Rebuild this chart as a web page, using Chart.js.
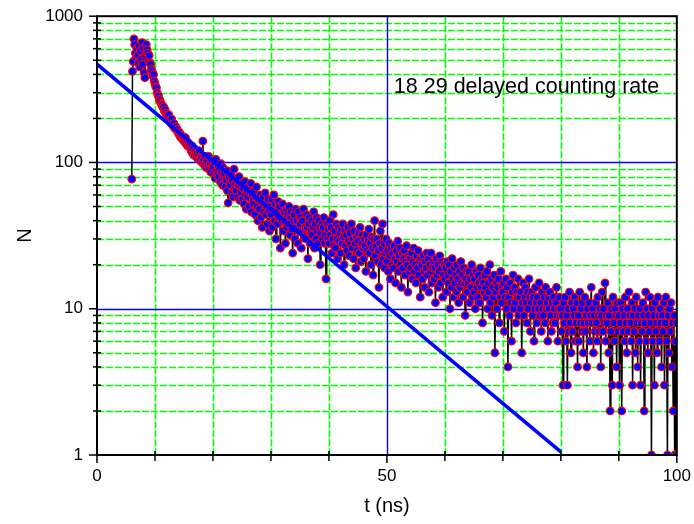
<!DOCTYPE html>
<html>
<head>
<meta charset="utf-8">
<title>18 29 delayed counting rate</title>
<script src="https://cdn.jsdelivr.net/npm/chart.js@4.4.1/dist/chart.umd.min.js"></script>
<style>
  html, body { margin: 0; padding: 0; background: #fff; }
  #wrap { width: 694px; height: 524px; }
</style>
</head>
<body>
<div id="wrap"><canvas id="myChart" width="694" height="524"></canvas></div>
<script>
// counts per time bin, first bin at 6.0 ns, bins 0.125 ns wide (8 per ns)
var binStart = 6.0;
var binWidth = 0.125;
var counts = [
  77, 420, 490, 700, 640, 560, 520, 600,
  540, 480, 620, 450, 580, 510, 660, 470,
  600, 410, 380, 520, 640, 590, 560, 500,
  540, 480, 470, 435, 420, 390, 400, 360,
  345, 330, 325, 300, 290, 285, 270, 265,
  255, 250, 245, 238, 240, 225, 230, 218,
  210, 205, 200, 212, 195, 190, 186, 198,
  182, 178, 185, 172, 170, 175, 166, 168,
  162, 156, 160, 150, 154, 146, 150, 142,
  145, 138, 148, 134, 140, 130, 136, 128,
  132, 125, 120, 130, 115, 124, 112, 118,
  120, 110, 116, 106, 112, 120, 104, 110,
  108, 100, 140, 104, 96, 110, 98, 92,
  102, 95, 110, 90, 98, 86, 104, 94,
  92, 84, 100, 78, 105, 88, 82, 94,
  80, 90, 74, 98, 85, 70, 92, 78,
  84, 68, 76, 88, 64, 53, 80, 72,
  70, 82, 62, 75, 58, 90, 66, 72,
  64, 76, 58, 70, 80, 55, 68, 62,
  72, 56, 66, 52, 74, 60, 48, 64,
  58, 68, 50, 62, 72, 46, 60, 55,
  52, 64, 44, 58, 68, 50, 40, 56,
  48, 60, 42, 54, 36, 58, 46, 52,
  62, 44, 50, 38, 56, 47, 34, 50,
  44, 56, 36, 48, 60, 40, 52, 30,
  46, 38, 54, 42, 50, 26, 44, 40,
  52, 34, 46, 40, 28, 48, 36, 44,
  38, 50, 32, 42, 46, 35, 24, 40,
  44, 30, 48, 36, 40, 28, 46, 34,
  38, 42, 26, 40, 34, 48, 31, 36,
  30, 44, 36, 22, 38, 42, 28, 34,
  40, 32, 36, 46, 26, 38, 30, 42,
  34, 28, 40, 36, 20, 33, 38, 30,
  36, 42, 28, 32, 16, 38, 30, 35,
  28, 40, 32, 36, 24, 30, 44, 27,
  34, 26, 38, 30, 22, 36, 29, 33,
  24, 35, 28, 38, 31, 20, 34, 27,
  32, 25, 36, 29, 23, 33, 28, 38,
  26, 30, 22, 34, 28, 19, 31, 25,
  29, 33, 24, 36, 21, 28, 32, 26,
  22, 30, 27, 18, 32, 25, 29, 35,
  24, 28, 20, 31, 26, 17, 30, 40,
  23, 27, 30, 21, 25, 14, 28, 34,
  20, 26, 38, 22, 28, 19, 24, 30,
  21, 25, 18, 28, 23, 16, 26, 20,
  24, 19, 27, 22, 15, 25, 21, 29,
  18, 23, 26, 20, 14, 24, 19, 22,
  25, 17, 21, 27, 20, 13, 23, 18,
  22, 19, 24, 16, 21, 26, 18, 20,
  15, 23, 19, 25, 17, 21, 12, 22,
  20, 16, 23, 18, 14, 21, 19, 24,
  17, 22, 13, 20, 18, 24, 15, 19,
  21, 16, 19, 11, 22, 17, 20, 14,
  18, 23, 15, 19, 21, 12, 17, 20,
  16, 19, 13, 21, 17, 15, 20, 10,
  18, 14, 22, 16, 12, 19, 15, 17,
  13, 20, 16, 11, 18, 14, 21, 15,
  17, 12, 19, 15, 9, 16, 18, 13,
  15, 18, 11, 16, 14, 20, 12, 17,
  13, 16, 10, 18, 14, 12, 17, 15,
  11, 19, 14, 16, 8, 15, 13, 17,
  14, 12, 18, 10, 15, 13, 20, 11,
  16, 9, 14, 12, 17, 5, 13, 15,
  10, 14, 16, 8, 12, 18, 11, 14,
  13, 15, 7, 12, 16, 10, 14, 4,
  12, 9, 15, 11, 6, 13, 17, 10,
  14, 11, 8, 13, 12, 16, 9, 12,
  10, 13, 5, 11, 15, 9, 12, 14,
  11, 8, 13, 10, 16, 12, 7, 11,
  13, 9, 12, 6, 10, 14, 11, 8,
  12, 10, 15, 9, 11, 7, 13, 10,
  9, 12, 8, 14, 10, 11, 6, 12,
  10, 13, 9, 7, 11, 8, 12, 10,
  8, 11, 14, 9, 6, 10, 12, 9,
  10, 7, 9, 3, 11, 8, 12, 6,
  9, 3, 10, 7, 13, 8, 5, 11,
  7, 10, 9, 12, 6, 8, 11, 4,
  9, 6, 13, 8, 10, 7, 11, 5,
  8, 12, 7, 9, 4, 10, 8, 11,
  6, 9, 14, 8, 10, 5, 9, 7,
  11, 8, 6, 12, 9, 7, 10, 4,
  9, 13, 7, 10, 8, 15, 6, 9,
  8, 11, 5, 9, 2, 7, 10, 3,
  12, 8, 6, 10, 9, 4, 11, 7,
  9, 3, 8, 11, 2, 10, 7, 9,
  6, 12, 8, 5, 10, 7, 13, 9,
  8, 6, 11, 3, 9, 7, 10, 5,
  12, 8, 4, 9, 6, 10, 3, 8,
  7, 11, 9, 2, 8, 13, 6, 10,
  5, 9, 7, 12, 8, 1, 10, 6,
  9, 3, 11, 7, 8, 5, 12, 9,
  6, 10, 8, 4, 9, 7, 11, 3,
  8, 12, 6, 1, 9, 5, 10, 7,
  11, 4, 8, 2, 9, 1, 6, 1,
  8
];

// straight fit line drawn over the data
var fitT = [0, 80];
var fitN = [470, 1.05];

var xLabels = [0, 50, 100];
var yLabels = [1, 10, 100, 1000];

var points = [];
for (var i = 0; i < counts.length; i++) {
  points.push({ x: binStart + i * binWidth, y: counts[i] });
}
var fitPoints = [];
for (var j = 0; j < fitT.length; j++) {
  fitPoints.push({ x: fitT[j], y: fitN[j] });
}

var FONT = '"Liberation Sans", Arial, sans-serif';

// grid, axis ticks, frame and the label inside the plot
var framePlugin = {
  id: 'frame',
  beforeDatasetsDraw: function (chart) {
    var ctx = chart.ctx, a = chart.chartArea;
    var x = chart.scales.x, y = chart.scales.y;
    ctx.save();
    ctx.lineWidth = 1.6;
    ctx.strokeStyle = '#00ff00';
    ctx.setLineDash([7, 2]);
    for (var v = 10; v < 100; v += 10) {
      if (v === 50) continue;
      var px = Math.round(x.getPixelForValue(v)) + 0.5;
      ctx.beginPath(); ctx.moveTo(px, a.top); ctx.lineTo(px, a.bottom); ctx.stroke();
    }
    [1, 10, 100].forEach(function (d) {
      for (var m = 2; m <= 9; m++) {
        var py = Math.round(y.getPixelForValue(d * m)) + 0.5;
        ctx.beginPath(); ctx.moveTo(a.left, py); ctx.lineTo(a.right, py); ctx.stroke();
      }
    });
    ctx.setLineDash([]);
    ctx.lineWidth = 1.4;
    ctx.strokeStyle = '#0000ff';
    var p50 = Math.round(x.getPixelForValue(50)) + 0.5;
    ctx.beginPath(); ctx.moveTo(p50, a.top); ctx.lineTo(p50, a.bottom); ctx.stroke();
    [10, 100].forEach(function (d) {
      var py = Math.round(y.getPixelForValue(d)) + 0.5;
      ctx.beginPath(); ctx.moveTo(a.left, py); ctx.lineTo(a.right, py); ctx.stroke();
    });
    ctx.restore();
  },
  afterDatasetsDraw: function (chart) {
    var ctx = chart.ctx, a = chart.chartArea;
    var x = chart.scales.x, y = chart.scales.y;
    ctx.save();
    ctx.strokeStyle = '#000';
    ctx.lineWidth = 2;
    ctx.strokeRect(a.left, a.top, a.right - a.left, a.bottom - a.top);
    ctx.lineWidth = 1.5;
    for (var v = 0; v <= 100; v += 10) {
      var px = x.getPixelForValue(v);
      ctx.beginPath();
      if (v % 50 === 0) { ctx.moveTo(px, a.bottom); ctx.lineTo(px, a.bottom + 8); }
      else { ctx.moveTo(px, a.bottom - 4); ctx.lineTo(px, a.bottom + 6); }
      ctx.stroke();
    }
    [1, 10, 100].forEach(function (d) {
      for (var m = 2; m <= 9; m++) {
        var py = y.getPixelForValue(d * m);
        ctx.beginPath(); ctx.moveTo(a.left - 4, py); ctx.lineTo(a.left + 4, py); ctx.stroke();
      }
    });
    yLabels.forEach(function (d) {
      var py = y.getPixelForValue(d);
      ctx.beginPath(); ctx.moveTo(a.left - 8, py); ctx.lineTo(a.left, py); ctx.stroke();
    });
    ctx.fillStyle = '#000';
    ctx.font = '21.5px ' + FONT;
    ctx.textAlign = 'left';
    ctx.textBaseline = 'middle';
    ctx.fillText('18 29 delayed counting rate', x.getPixelForValue(51.2), y.getPixelForValue(330));
    ctx.restore();
  }
};

var chart = new Chart(document.getElementById('myChart').getContext('2d'), {
  type: 'line',
  data: {
    datasets: [
      {
        label: 'fit',
        data: fitPoints,
        borderColor: '#0000ff',
        borderWidth: 3.5,
        pointRadius: 0,
        order: 0
      },
      {
        label: 'N',
        data: points,
        borderColor: '#000',
        borderWidth: 1.5,
        pointRadius: 3.8,
        pointBorderWidth: 1.2,
        pointBackgroundColor: '#0000ff',
        pointBorderColor: '#ff0000',
        order: 1
      }
    ]
  },
  options: {
    responsive: false,
    animation: false,
    layout: { padding: { top: 15, right: 14, left: 0, bottom: 0 } },
    plugins: { legend: { display: false }, tooltip: { enabled: false } },
    scales: {
      x: {
        type: 'linear',
        min: 0,
        max: 100,
        afterFit: function (s) { s.height = 69; },
        border: { display: false },
        grid: { drawOnChartArea: false, tickLength: 8, color: 'rgba(0,0,0,0)' },
        ticks: {
          stepSize: 10,
          autoSkip: false,
          maxRotation: 0,
          padding: 3,
          color: '#000',
          font: { family: FONT, size: 17 },
          callback: function (v) { return xLabels.indexOf(v) >= 0 ? String(v) : ''; }
        },
        title: {
          display: true,
          text: 't (ns)',
          color: '#000',
          font: { family: FONT, size: 20 },
          padding: { top: 0, bottom: 6 }
        }
      },
      y: {
        type: 'logarithmic',
        min: 1,
        max: 1000,
        afterFit: function (s) { s.width = 97; },
        border: { display: false },
        grid: { drawOnChartArea: false, tickLength: 8, color: 'rgba(0,0,0,0)' },
        ticks: {
          autoSkip: false,
          padding: 6,
          color: '#000',
          font: { family: FONT, size: 17 },
          callback: function (v) { return yLabels.indexOf(v) >= 0 ? String(v) : ''; }
        },
        title: {
          display: true,
          text: 'N',
          color: '#000',
          font: { family: FONT, size: 20 },
          padding: { top: 13, bottom: 0 }
        }
      }
    }
  },
  plugins: [framePlugin]
});
</script>
</body>
</html>
